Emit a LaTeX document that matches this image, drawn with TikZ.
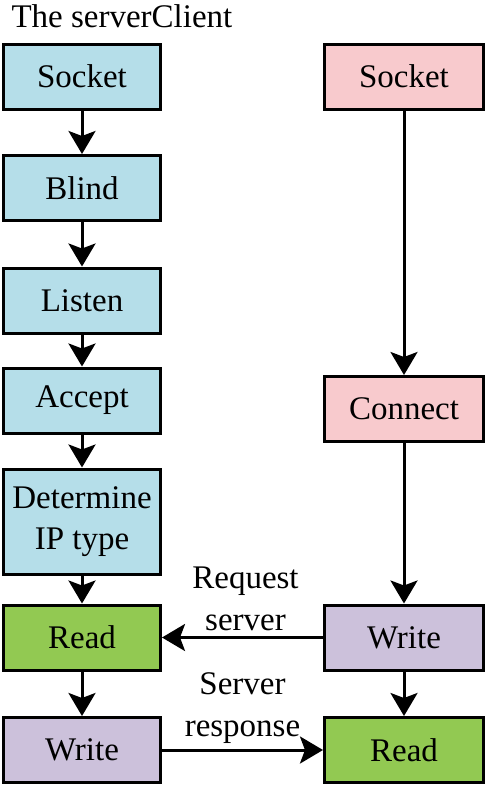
\documentclass[tikz,border=0pt]{standalone}
\usepackage{fontspec}
\setmainfont{Liberation Serif}
\usetikzlibrary{arrows.meta}
\definecolor{cblue}{HTML}{B5DEE9}
\definecolor{cpink}{HTML}{F8CACD}
\definecolor{cgreen}{HTML}{92C952}
\definecolor{cpurple}{HTML}{CCC1DB}
\tikzset{
  box/.style={draw=black, line width=3pt, rectangle, minimum height=65pt, inner sep=0pt,
    font=\fontsize{33}{41}\selectfont, align=center},
  lbox/.style={box, minimum width=157pt},
  rbox/.style={box, minimum width=159pt},
  arr/.style={line width=3pt, -{Stealth[length=23pt,width=27pt,inset=5pt]}},
  lbl/.style={font=\fontsize{33}{42}\selectfont, align=center}
}
\begin{document}
\begin{tikzpicture}[x=1pt,y=-1pt]
\useasboundingbox (0,0) rectangle (487,785);
\node[anchor=base west, font=\fontsize{33}{41}\selectfont] (title) at (8,27) {The serverClient};
\node[lbox, fill=cblue] (s1) at (82,76.5) {Socket};
\node[lbox, fill=cblue] (b1) at (82,188) {Blind};
\node[lbox, fill=cblue] (l1) at (82,300.5) {Listen};
\node[lbox, fill=cblue] (a1) at (82,400.5) {Accept};
\node[lbox, fill=cblue, minimum height=105pt] (d1) at (82,521.5) {Determine\\IP type};
\node[lbox, fill=cgreen] (r1) at (82,637.5) {Read};
\node[lbox, fill=cpurple] (w1) at (82,750) {Write};
\node[rbox, fill=cpink] (s2) at (404,76.5) {Socket};
\node[rbox, fill=cpink] (c2) at (404,409) {Connect};
\node[rbox, fill=cpurple] (w2) at (404,637.5) {Write};
\node[rbox, fill=cgreen] (r2) at (404,750) {Read};
\draw[arr] (s1) -- (b1);
\draw[arr] (b1) -- (l1);
\draw[arr] (l1) -- (a1);
\draw[arr] (a1) -- (d1);
\draw[arr] (d1) -- (r1);
\draw[arr] (r1) -- (w1);
\draw[arr] (s2) -- (c2);
\draw[arr] (c2) -- (w2);
\draw[arr] (w2) -- (r2);
\draw[arr] (w2) -- node[lbl, above=2pt, xshift=3pt] (lq) {Request\\server} (r1);
\draw[arr] (w1) -- node[lbl, above=2pt] (lr) {Server\\response} (r2);
\end{tikzpicture}
\end{document}
